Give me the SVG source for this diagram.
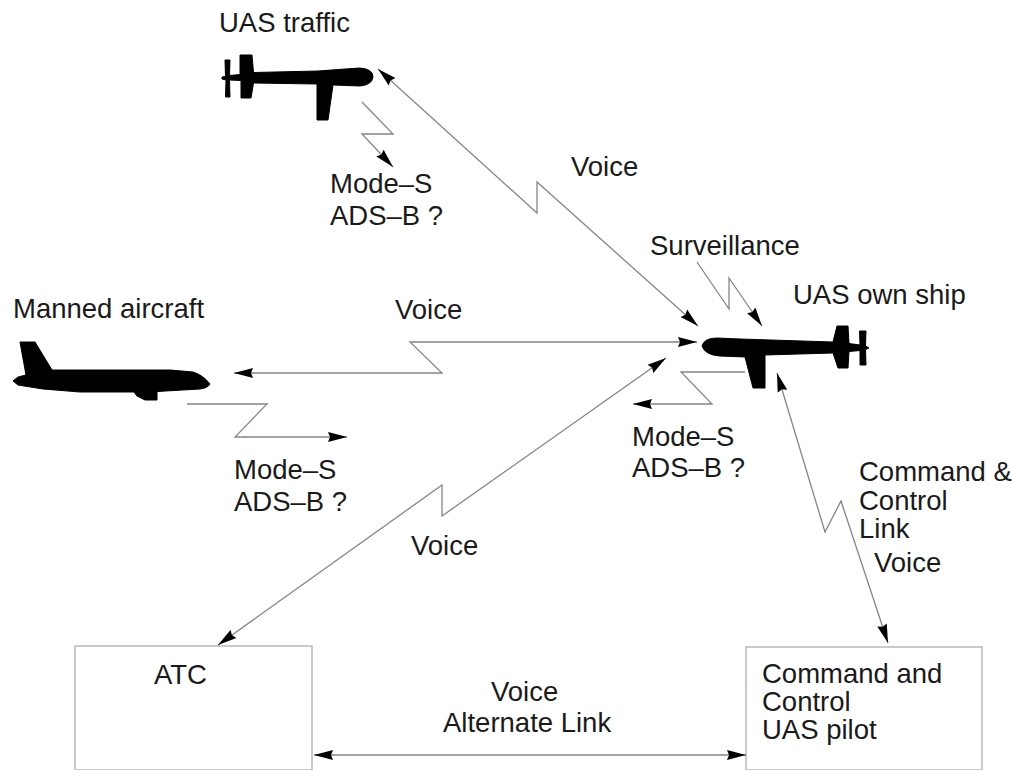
<svg xmlns="http://www.w3.org/2000/svg" width="1013" height="770" viewBox="0 0 1013 770">
<style>
text{font-family:"Liberation Sans",Arial,sans-serif;font-size:27.500px;fill:#1a1a1a}
.link{fill:none;stroke:#858585;stroke-width:1.3;stroke-linejoin:miter}
.box{fill:#fff;stroke:#bdbdbd;stroke-width:1.6}
.plane{fill:#000;stroke:#000;stroke-width:1;stroke-linejoin:round}
</style>
<defs>
<marker id="a" markerUnits="userSpaceOnUse" viewBox="0 0 19 11" refX="19" refY="5.500" markerWidth="19" markerHeight="11" orient="auto-start-reverse"><path d="M0 .5L19 5.500L0 10.500L2 5.500Z" fill="#000"/></marker>
</defs>
<rect width="1013" height="770" fill="#fff"/>
<g id="node-atc"><rect class="box" x="75" y="646" width="237" height="124"/><text x="154" y="684">ATC</text></g>
<g id="node-cc"><rect class="box" x="746" y="647" width="236" height="123"/><text x="762" y="683">Command and</text><text x="762" y="711">Control</text><text x="762" y="739">UAS pilot</text></g>
<g id="node-uas-traffic">
<path class="plane" d="M222 77L225.500 76.500L225 60H230L229.500 75.500L240 74.500V55H252L253.500 72.500L318 71L345 69L360 68Q373 69 373 77Q372 85 360 86L333 85L328 120H317V84L253.500 83L251 98H241V80.500L229.500 80L230 97H225.500L226 80L222 79Z"/>
<text x="219" y="32">UAS traffic</text></g>
<g id="node-own-ship">
<path class="plane" d="M702 346Q704 338 717 338L740 339L833 342L837 326H848L849 343.500L860 345L859.500 331H866L865.500 346L869 348L865.500 349.500L866 365H860L860 350.500L849 351.500L848 368H838L833 353L765 355V388H753L745 357L720 356Q705 355 702 346Z"/>
<text x="793" y="304">UAS own ship</text></g>
<g id="node-manned">
<path class="plane" d="M20 342H35L52 370L85 370L170 370L193 372Q203 375 210 384Q208 388 200 389L157 391.500V400H145L137 396L134 392L80 392L43 389L18 385L13 381L18 377L26 375Z"/>
<text x="13" y="318">Manned aircraft</text></g>
<g id="connectors">
<path class="link" marker-start="url(#a)" marker-end="url(#a)" d="M378 69L537 213V182L698 326"/>
<path class="link" marker-end="url(#a)" d="M362 102L393 134H362L393 167"/>
<path class="link" marker-end="url(#a)" d="M697 262L729 309V278L762 326"/>
<path class="link" marker-start="url(#a)" marker-end="url(#a)" d="M234 373H442L410 342H697"/>
<path class="link" marker-end="url(#a)" d="M187 404H267L235 437H347"/>
<path class="link" marker-end="url(#a)" d="M745 372H681L712 404H633"/>
<path class="link" marker-start="url(#a)" marker-end="url(#a)" d="M666 358L442 516V485L218 645"/>
<path class="link" marker-start="url(#a)" marker-end="url(#a)" d="M777 373L825 532L841 501L888 643"/>
<path class="link" marker-start="url(#a)" marker-end="url(#a)" d="M314 755H746"/>
</g>
<g id="labels">
<text x="330" y="193">Mode–S</text><text x="330" y="225">ADS–B ?</text>
<text x="571" y="176">Voice</text>
<text x="650" y="255">Surveillance</text>
<text x="395" y="319">Voice</text>
<text x="234" y="479">Mode–S</text><text x="234" y="511">ADS–B ?</text>
<text x="632" y="446">Mode–S</text><text x="632" y="477">ADS–B ?</text>
<text x="411" y="555">Voice</text>
<text x="859" y="481">Command &amp;</text><text x="859" y="510">Control</text><text x="859" y="538">Link</text>
<text x="874" y="572">Voice</text>
<text x="491" y="701">Voice</text><text x="443" y="732">Alternate Link</text>
</g>
</svg>
